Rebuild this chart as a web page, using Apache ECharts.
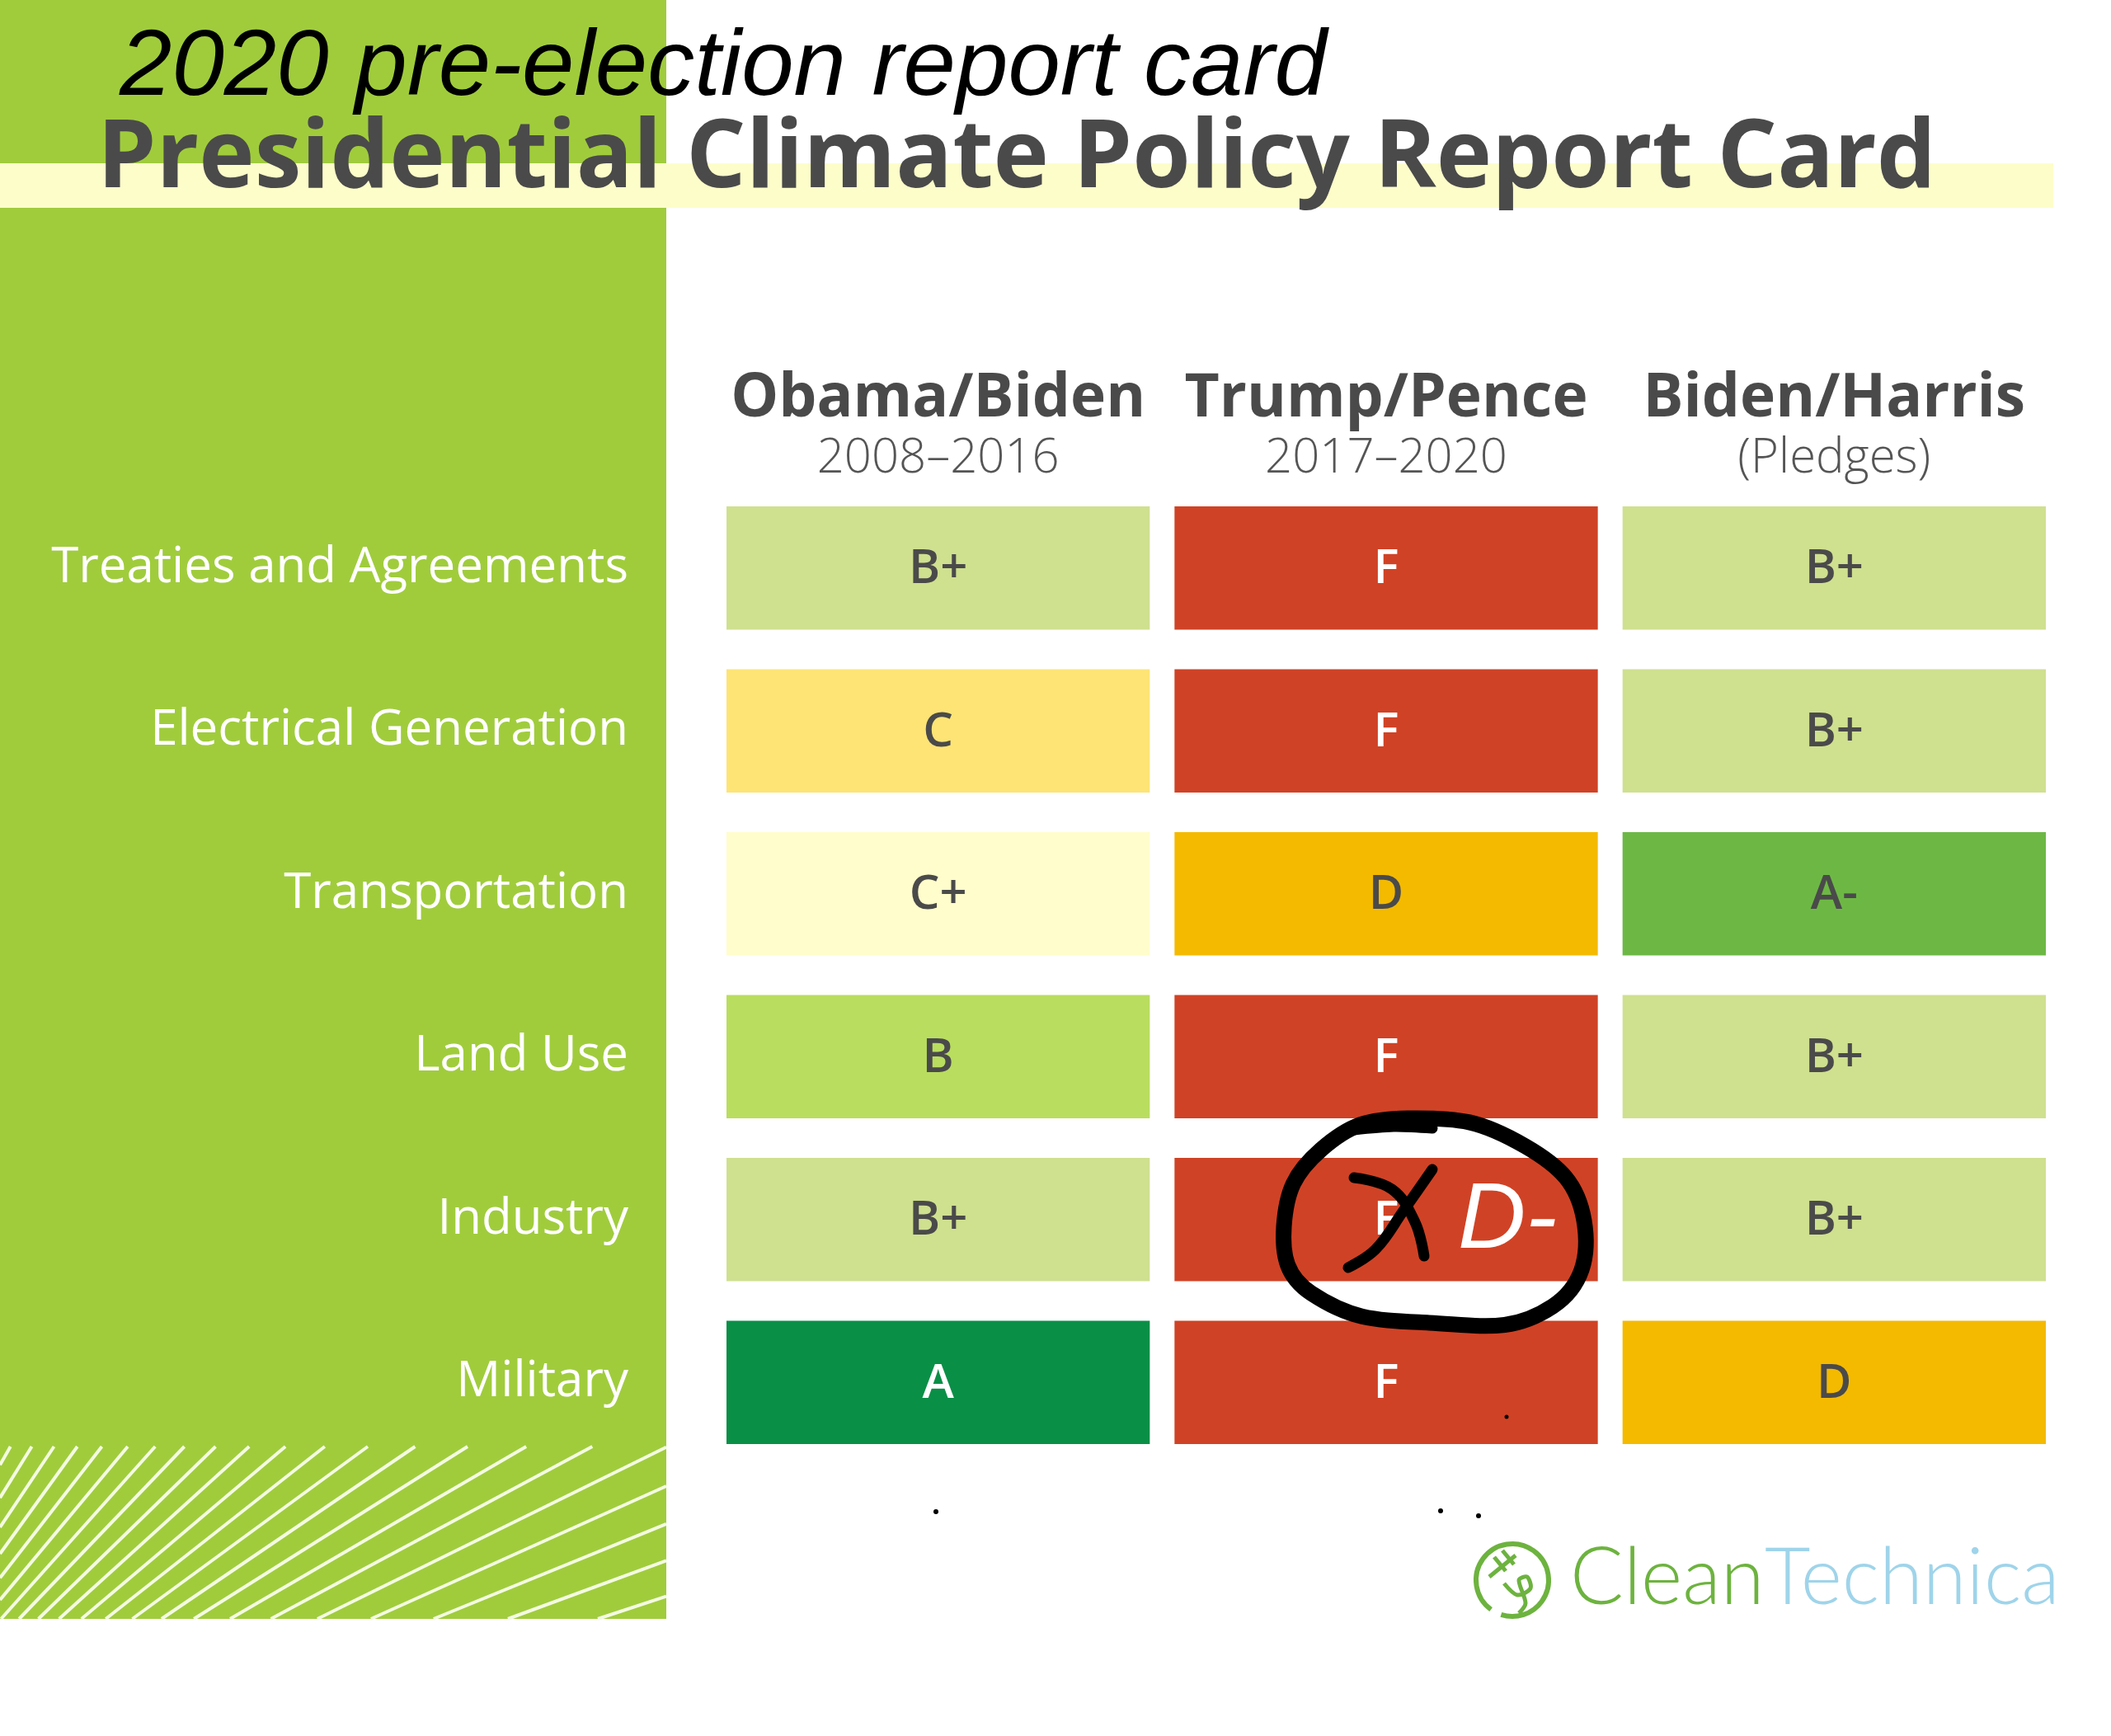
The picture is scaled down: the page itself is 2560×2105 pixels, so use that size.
<!DOCTYPE html>
<html>
<head>
<meta charset="utf-8">
<script src="https://cdn.jsdelivr.net/npm/echarts@6/dist/echarts.min.js"></script>
<style>
html,body{margin:0;padding:0;background:#fff;}
#chart{width:2560px;height:2105px;}
</style>
</head>
<body>
<div id="chart"></div>
<script>
// ---------- data ----------
const columnNames = ['Obama/Biden', 'Trump/Pence', 'Biden/Harris'];
const columnPeriods = ['2008–2016', '2017–2020', '(Pledges)'];
const categories = ['Treaties and Agreements', 'Electrical Generation', 'Transportation', 'Land Use', 'Industry', 'Military'];
const gradesObamaBiden = ['B+', 'C', 'C+', 'B', 'B+', 'A'];
const gradesTrumpPence = ['F', 'F', 'D', 'F', 'F', 'F'];
const gradesBidenHarris = ['B+', 'B+', 'A-', 'B+', 'B+', 'D'];
const gradeScale = ['A', 'A-', 'B+', 'B', 'C+', 'C', 'D', 'D-', 'F'];
const gradeColors = ['#0a8f47', '#6db845', '#cfe08f', '#b9dd5f', '#fffdcb', '#fde475', '#f4ba00', '#f4ba00', '#d04225'];

// ---------- build ----------
const allGrades = [gradesObamaBiden, gradesTrumpPence, gradesBidenHarris];
const cells = [];
allGrades.forEach((col, ci) => col.forEach((g, ri) => cells.push([ci, ri, g])));
const colorOf = g => gradeColors[gradeScale.indexOf(g)];
const lightText = g => (g === 'A' || g === 'F');

const GAP_X = 30, GAP_Y = 48;

function renderCell(params, api) {
  const d = cells[params.dataIndex];
  const c = api.coord([d[0], d[1]]);
  const s = api.size([1, 1]);
  const w = s[0] - GAP_X, h = s[1] - GAP_Y;
  return {
    type: 'group',
    children: [
      { type: 'rect', shape: { x: c[0] - w / 2, y: c[1] - h / 2, width: w, height: h },
        style: { fill: colorOf(d[2]) } },
      { type: 'text', style: { x: c[0], y: c[1] + 2, text: d[2], align: 'center', verticalAlign: 'middle',
        fontFamily: '"Open Sans"', fontWeight: 600, fontSize: 58,
        fill: lightText(d[2]) ? '#ffffff' : '#4a4a4a' } }
    ]
  };
}

// decorative hatch lines (fan) in the green panel's lower part
function hatchLines() {
  const V = [-300, 2300], box = [0, 1754, 808, 1963];
  const out = [];
  for (let a = 29.8; a <= 72.3; a += 2) {
    const r = a * Math.PI / 180, dx = Math.sin(r), dy = -Math.cos(r);
    let t0 = -1e9, t1 = 1e9;
    const clip = (p, q) => { if (p === 0) return q >= 0; const t = q / p; if (p < 0) t0 = Math.max(t0, t); else t1 = Math.min(t1, t); return true; };
    clip(-dx, V[0] - box[0]); clip(dx, box[2] - V[0]);
    clip(-dy, V[1] - box[1]); clip(dy, box[3] - V[1]);
    if (t0 < t1) out.push({ type: 'line', z: -5, silent: true,
      shape: { x1: V[0] + dx * t0, y1: V[1] + dy * t0, x2: V[0] + dx * t1, y2: V[1] + dy * t1 },
      style: { stroke: '#f4fbe2', lineWidth: 4 } });
  }
  return out;
}

const chart = echarts.init(document.getElementById('chart'), null, { renderer: 'canvas' });
chart.setOption({
  backgroundColor: '#ffffff',
  animation: false,
  grid: { left: 866, right: 64, top: 590, bottom: 330, containLabel: false },
  xAxis: {
    type: 'category', position: 'top', data: columnNames,
    axisLine: { show: false }, axisTick: { show: false }, splitLine: { show: false },
    axisLabel: {
      interval: 0, margin: 4,
      formatter: (v, i) => '{n|' + v + '}\n{p|' + columnPeriods[i] + '}',
      rich: {
        n: { fontFamily: '"Open Sans"', fontWeight: 700, fontSize: 73, color: '#4a4a4a', lineHeight: 84, align: 'center' },
        p: { fontFamily: '"Open Sans"', fontWeight: 300, fontSize: 58, color: '#555555', lineHeight: 60, align: 'center' }
      }
    }
  },
  yAxis: {
    type: 'category', inverse: true, data: categories,
    axisLine: { show: false }, axisTick: { show: false }, splitLine: { show: false },
    axisLabel: { interval: 0, margin: 104, color: '#ffffff', fontFamily: '"Open Sans"', fontSize: 60 }
  },
  series: [{
    type: 'custom', renderItem: renderCell, data: cells.map(c => [c[0], c[1]]),
    encode: { x: 0, y: 1 }, z: 5
  }],
  graphic: [
    // green side panel
    { type: 'rect', z: -10, silent: true, shape: { x: 0, y: 0, width: 808, height: 1963 }, style: { fill: '#a0cc3c' } },
    // yellow band
    { type: 'rect', z: -9, silent: true, shape: { x: 0, y: 198, width: 2490, height: 54 }, style: { fill: '#fdfdca' } },
    ...hatchLines(),
    // titles
    { type: 'text', z: 50, style: { x: 145, y: 83, text: '2020 pre-election report card', verticalAlign: 'middle',
      fontFamily: '"Liberation Sans", Arial, sans-serif', fontStyle: 'italic', fontSize: 114, fill: '#000000' } },
    { type: 'text', z: 50, style: { x: 118, y: 195, text: 'Presidential Climate Policy Report Card', verticalAlign: 'middle',
      fontFamily: '"Open Sans"', fontWeight: 700, fontSize: 114, fill: '#4a4a4a' } },
    // hand-drawn annotation
    { type: 'polygon', z: 60, silent: true,
      shape: { smooth: 0.45, points: [[1707, 1356], [1850, 1390], [1921, 1480], [1883, 1584], [1733, 1604], [1590, 1568], [1557, 1487], [1602, 1394]] },
      style: { fill: 'none', stroke: '#000', lineWidth: 19 } },
    { type: 'polyline', z: 60, silent: true, shape: { points: [[1642, 1370], [1690, 1366], [1737, 1368]], smooth: 0.3 },
      style: { fill: 'none', stroke: '#000', lineWidth: 13, lineCap: 'round' } },
    { type: 'polyline', z: 60, silent: true, shape: { points: [[1642, 1428], [1688, 1442], [1716, 1482], [1727, 1523]], smooth: 0.4 },
      style: { fill: 'none', stroke: '#000', lineWidth: 13, lineCap: 'round' } },
    { type: 'polyline', z: 60, silent: true, shape: { points: [[1737, 1418], [1702, 1468], [1668, 1515], [1635, 1537]], smooth: 0.4 },
      style: { fill: 'none', stroke: '#000', lineWidth: 13, lineCap: 'round' } },
    { type: 'text', z: 61, style: { x: 1768, y: 1481, text: 'D-', verticalAlign: 'middle',
      fontFamily: '"Liberation Sans", Arial, sans-serif', fontStyle: 'italic', fontSize: 114, fill: '#ffffff' } },
    // stray dots
    { type: 'circle', z: 60, shape: { cx: 1135, cy: 1833, r: 3 }, style: { fill: '#000' } },
    { type: 'circle', z: 60, shape: { cx: 1747, cy: 1832, r: 3 }, style: { fill: '#000' } },
    { type: 'circle', z: 60, shape: { cx: 1793, cy: 1838, r: 3 }, style: { fill: '#000' } },
    { type: 'circle', z: 60, shape: { cx: 1827, cy: 1718, r: 2.5 }, style: { fill: '#000' } },
    // CleanTechnica logo
    { type: 'arc', z: 50, shape: { cx: 1834, cy: 1916, r: 44, startAngle: 2.2, endAngle: 2.2 + Math.PI * 1.9 },
      style: { stroke: '#6db33f', lineWidth: 6, fill: 'none' } },
    { type: 'polyline', z: 50, shape: { points: [[1812, 1888], [1826, 1905]] }, style: { stroke: '#6db33f', lineWidth: 5, fill: 'none' } },
    { type: 'polyline', z: 50, shape: { points: [[1822, 1880], [1836, 1897]] }, style: { stroke: '#6db33f', lineWidth: 5, fill: 'none' } },
    { type: 'polyline', z: 50, shape: { points: [[1806, 1912], [1838, 1886]] }, style: { stroke: '#6db33f', lineWidth: 5, fill: 'none' } },
    { type: 'polyline', z: 50, shape: { points: [[1824, 1920], [1840, 1934], [1856, 1926], [1852, 1912], [1842, 1916], [1850, 1944], [1842, 1956]], smooth: 0.3 },
      style: { stroke: '#6db33f', lineWidth: 5, fill: 'none' } },
    { type: 'text', z: 50, style: { x: 1904, y: 1914, text: 'Clean', verticalAlign: 'middle',
      fontFamily: 'Lato', fontWeight: 300, fontSize: 96, fill: '#6db33f' } },
    { type: 'text', z: 50, style: { x: 2140, y: 1914, text: 'Technica', verticalAlign: 'middle',
      fontFamily: 'Lato', fontWeight: 300, fontSize: 96, fill: '#9fd4ea' } }
  ]
});
</script>
</body>
</html>
